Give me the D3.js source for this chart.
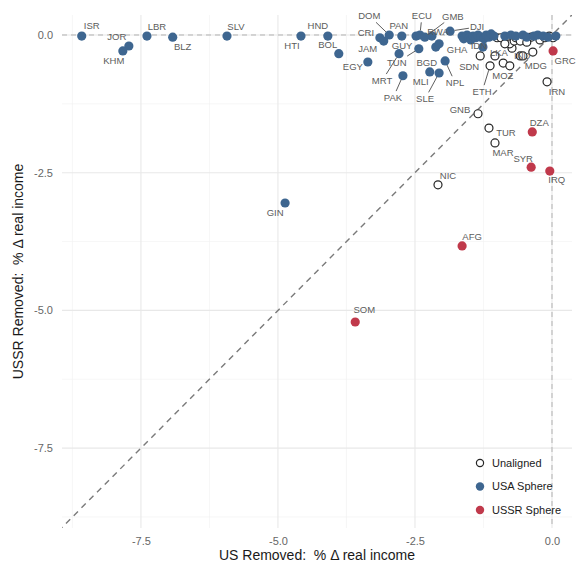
<!DOCTYPE html>
<html>
<head>
<meta charset="utf-8">
<script src="https://cdn.jsdelivr.net/npm/d3@7/dist/d3.min.js"></script>
<style>
  body { margin: 0; background: #fff; }
  text { font-family: "Liberation Sans", Arial, sans-serif; }
</style>
</head>
<body>
<div id="chart"></div>
<script>
// [code, US removed %, USSR removed %]
const unalignedPoints = [
  ["SDN", -1.31, -0.38], ["LKA", -1.04, -0.38], ["ETH", -1.13, -0.56], ["", -0.89, -0.51],
  ["MOZ", -0.77, -0.56], ["", -0.73, -0.24], ["IND", -0.58, -0.38], ["", -0.53, -0.38],
  ["MDG", -0.35, -0.31], ["IRN", -0.09, -0.85], ["GNB", -1.35, -1.43], ["TUR", -1.15, -1.69],
  ["MAR", -1.04, -1.96], ["NIC", -2.08, -2.72],
  ["", -1.00, -0.05], ["", -0.93, -0.05], ["", -0.82, -0.11], ["", -0.77, -0.16],
  ["", -0.69, -0.11], ["", -0.66, -0.05], ["", -0.58, -0.11], ["", -0.86, -0.16],
  ["", -0.38, -0.04], ["", -0.22, -0.09], ["", -0.13, -0.05], ["", 0.02, -0.05],
  ["", -0.05, -0.02], ["", -0.46, -0.13]
];
const usaPoints = [
  ["ISR", -8.58, -0.02], ["JOR", -7.72, -0.20], ["KHM", -7.83, -0.29], ["LBR", -7.39, -0.02],
  ["BLZ", -6.92, -0.04], ["SLV", -5.93, -0.02], ["HTI", -4.58, -0.02], ["HND", -4.09, -0.02],
  ["BOL", -3.89, -0.34], ["EGY", -3.36, -0.49], ["CRI", -3.14, -0.05], ["JAM", -3.07, -0.11],
  ["DOM", -2.97, 0.00], ["PAN", -2.74, -0.02], ["MRT", -2.79, -0.34], ["PAK", -2.72, -0.74],
  ["TUN", -2.43, -0.25], ["GUY", -2.48, -0.02], ["ECU", -2.41, 0.00], ["GMB", -2.32, -0.04],
  ["RWA", -2.19, -0.02], ["BGD", -2.12, -0.22], ["GHA", -2.06, -0.16], ["NPL", -1.95, -0.47],
  ["MLI", -2.23, -0.67], ["SLE", -2.06, -0.69], ["DJI", -1.86, 0.07], ["IDN", -1.26, -0.22],
  ["GIN", -4.87, -3.05],
  ["", -1.64, -0.02], ["", -1.61, -0.07], ["", -1.55, 0.00], ["", -1.51, -0.05],
  ["", -1.48, -0.09], ["", -1.44, -0.02], ["", -1.39, -0.05], ["", -1.35, 0.00],
  ["", -1.30, -0.04], ["", -1.24, -0.07], ["", -1.20, 0.00], ["", -1.15, -0.04],
  ["", -1.11, 0.02], ["", -1.06, -0.02], ["", -0.86, -0.02], ["", -0.75, 0.00],
  ["", -0.66, -0.02], ["", -0.53, 0.00], ["", -0.46, -0.04], ["", -0.33, -0.02],
  ["", -0.26, 0.00], ["", -0.16, -0.02], ["", -0.07, -0.04], ["", 0.07, -0.02]
];
const ussrPoints = [
  ["GRC", 0.02, -0.29], ["DZA", -0.36, -1.76], ["SYR", -0.38, -2.40],
  ["IRQ", -0.04, -2.47], ["AFG", -1.64, -3.83], ["SOM", -3.59, -5.21]
];
const groups = ["Unaligned", "USA Sphere", "USSR Sphere"];
const majorTicks = [-7.5, -5.0, -2.5, 0.0];
const minorTicks = [-8.75, -6.25, -3.75, -1.25];

// label placement (pixel nudges from the point, as ggrepel left them), true = leader line
const labelNudge = {
  ISR: [10, -10], JOR: [-12, -9], KHM: [-9, 10], LBR: [10, -9], BLZ: [10, 9], SLV: [9, -9],
  HTI: [-9, 10], HND: [-10, -10], BOL: [-11, -9], EGY: [-15, 5], CRI: [-14, -5], JAM: [-16, 8],
  DOM: [-20, -19, true], PAN: [-3, -10], GUY: [-14, 10], TUN: [-22, 14, true],
  MRT: [-17, 27, true], PAK: [-10, 22, true], ECU: [2, -19, true], GMB: [28, -21, true],
  RWA: [6, -4], DJI: [27, -4, true], BGD: [-9, 16], GHA: [18, 6], NPL: [10, 22, true],
  MLI: [-9, 10], SLE: [-14, 26, true], IDN: [-4, -1], GIN: [-10, 10],
  SDN: [-11, 11], LKA: [4, -3], ETH: [-8, 26, true], MOZ: [-7, 10], IND: [2, 0],
  MDG: [3, 14], IRN: [10, 10], GNB: [-18, -4], TUR: [17, 5], MAR: [8, 10], NIC: [10, -9],
  GRC: [12, 10], DZA: [7, -9], SYR: [-8, -9], IRQ: [7, 9], AFG: [10, -9], SOM: [9, -12]
};

const W = 576, H = 565;
const colors = {"Unaligned": "#ffffff", "USA Sphere": "#3e6690", "USSR Sphere": "#c0394b"};

const svg = d3.select("#chart").append("svg")
  .attr("width", W).attr("height", H);
svg.append("rect").attr("width", W).attr("height", H).attr("fill", "#fff");

const x = d3.scaleLinear().domain([-8.94, 0.365]).range([62, 572]);
const y = d3.scaleLinear().domain([-8.95, 0.363]).range([528, 15]);
const [x0, x1] = x.range();
const [y1, y0] = y.range();

svg.append("clipPath").attr("id", "panel")
  .append("rect").attr("x", x0).attr("y", y0).attr("width", x1 - x0).attr("height", y1 - y0);

const grid = svg.append("g");
grid.selectAll(".vminor").data(minorTicks).join("line")
  .attr("x1", d => x(d)).attr("x2", d => x(d)).attr("y1", y0).attr("y2", y1)
  .attr("stroke", "#f0f0f0").attr("stroke-width", 0.6);
grid.selectAll(".hminor").data(minorTicks).join("line")
  .attr("y1", d => y(d)).attr("y2", d => y(d)).attr("x1", x0).attr("x2", x1)
  .attr("stroke", "#f0f0f0").attr("stroke-width", 0.6);
grid.selectAll(".vmajor").data(majorTicks).join("line")
  .attr("x1", d => x(d)).attr("x2", d => x(d)).attr("y1", y0).attr("y2", y1)
  .attr("stroke", "#e8e8e8").attr("stroke-width", 1.1);
grid.selectAll(".hmajor").data(majorTicks).join("line")
  .attr("y1", d => y(d)).attr("y2", d => y(d)).attr("x1", x0).attr("x2", x1)
  .attr("stroke", "#e8e8e8").attr("stroke-width", 1.1);

// zero reference lines
svg.append("line").attr("x1", x0).attr("x2", x1).attr("y1", y(0)).attr("y2", y(0))
  .attr("stroke", "#b3b3b3").attr("stroke-width", 1).attr("stroke-dasharray", "5,4");
svg.append("line").attr("x1", x(0)).attr("x2", x(0)).attr("y1", y0).attr("y2", y1)
  .attr("stroke", "#b3b3b3").attr("stroke-width", 1).attr("stroke-dasharray", "5,4");

// 45 degree line
svg.append("line").attr("clip-path", "url(#panel)")
  .attr("x1", x(-10)).attr("y1", y(-10)).attr("x2", x(1)).attr("y2", y(1))
  .attr("stroke", "#7a7a7a").attr("stroke-width", 1.4).attr("stroke-dasharray", "6,5");

// axes
const xAxis = svg.append("g").attr("transform", "translate(0," + y1 + ")")
  .call(d3.axisBottom(x).tickValues(majorTicks).tickFormat(d => d.toFixed(1)).tickSize(0).tickPadding(9));
const yAxis = svg.append("g").attr("transform", "translate(" + x0 + ",0)")
  .call(d3.axisLeft(y).tickValues(majorTicks).tickFormat(d => d.toFixed(1)).tickSize(0).tickPadding(9));
[xAxis, yAxis].forEach(a => {
  a.select(".domain").remove();
  a.selectAll("text").attr("fill", "#666666").style("font-size", "11px")
    .style("font-family", "'Liberation Sans', Arial, sans-serif");
});

svg.append("text").attr("x", (x0 + x1) / 2).attr("y", 560).attr("text-anchor", "middle")
  .attr("fill", "#1a1a1a").style("font-size", "14px").style("white-space", "pre")
  .text("US Removed:  % \u0394 real income");
svg.append("text").attr("transform", "translate(23," + ((y0 + y1) / 2) + ") rotate(-90)")
  .attr("text-anchor", "middle").attr("fill", "#1a1a1a").style("font-size", "14px")
  .style("white-space", "pre")
  .text("USSR Removed:  % \u0394 real income");

// points
const toRows = (arr, g) => arr.map(d => ({code: d[0], us: d[1], ussr: d[2], group: g}));
const allData = [].concat(
  toRows(unalignedPoints, groups[0]),
  toRows(usaPoints, groups[1]),
  toRows(ussrPoints, groups[2])
);

const pointsG = svg.append("g");
pointsG.selectAll("circle").data(allData).join("circle")
  .attr("cx", d => x(d.us)).attr("cy", d => y(d.ussr))
  .attr("r", d => d.group === "Unaligned" ? 4 : 4.6)
  .attr("fill", d => colors[d.group])
  .attr("stroke", d => d.group === "Unaligned" ? "#262626" : "none")
  .attr("stroke-width", 1.2);

// labels
const labelled = allData.filter(d => d.code && labelNudge[d.code]);
const labelG = svg.append("g");
labelled.forEach(d => {
  const [dx, dy, leader] = labelNudge[d.code];
  const px = x(d.us), py = y(d.ussr);
  const t = labelG.append("text")
    .attr("x", px + dx).attr("y", py + dy).attr("dy", "0.35em")
    .attr("text-anchor", "middle").attr("fill", "#5c5c5c")
    .style("font-size", "9.5px").text(d.code);
  if (leader) {
    const b = t.node().getBBox();
    const cx = b.x + b.width / 2, cy = b.y + b.height / 2;
    const vx = px - cx, vy = py - cy;
    const s = Math.min(Math.abs((b.width / 2 + 1) / (vx || 1e-6)), Math.abs((b.height / 2 + 1) / (vy || 1e-6)));
    const sx = cx + vx * Math.min(s, 1), sy = cy + vy * Math.min(s, 1);
    const len = Math.hypot(px - sx, py - sy);
    const ex = px - (px - sx) / len * 4.5, ey = py - (py - sy) / len * 4.5;
    labelG.insert("line", "text").attr("x1", sx).attr("y1", sy).attr("x2", ex).attr("y2", ey)
      .attr("stroke", "#4d4d4d").attr("stroke-width", 0.9);
  }
});

// legend
const legend = svg.append("g").attr("transform", "translate(480,463)");
groups.forEach((g, i) => {
  const row = legend.append("g").attr("transform", "translate(0," + (i * 23.5) + ")");
  row.append("circle").attr("r", g === "Unaligned" ? 3.6 : 4.2)
    .attr("fill", colors[g]).attr("stroke", g === "Unaligned" ? "#262626" : "none").attr("stroke-width", 1.2);
  row.append("text").attr("x", 12).attr("dy", "0.35em").attr("fill", "#1a1a1a")
    .style("font-size", "11px").text(g);
});
</script>
</body>
</html>
